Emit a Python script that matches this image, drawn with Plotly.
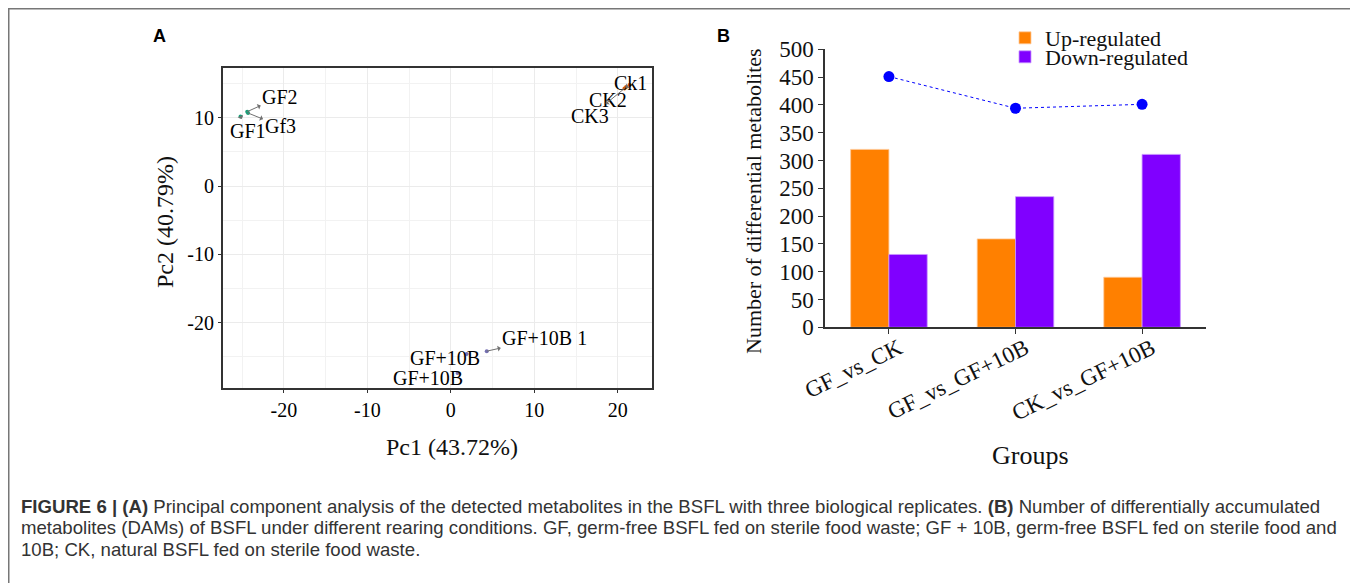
import plotly.graph_objects as go

W, H = 1358, 583
OFF = 8  # page body margin of the browser

# ---------------- Panel A data (PCA) ----------------
pca_labels = ["GF1", "GF2", "Gf3", "Ck1", "CK2", "CK3", "GF+10B 1", "GF+10B", "GF+10B"]
pca_groups = ["GF", "GF", "GF", "CK", "CK", "CK", "GF+10B", "GF+10B", "GF+10B"]
pc1 = [-25.2, -24.4, -24.3, 21.4, 21.0, 20.8, 4.3, 1.9, 0.8]
pc2 = [10.2, 10.9, 10.7, 14.8, 14.5, 14.3, -24.2, -24.6, -27.4]
group_names = ["GF", "CK", "GF+10B"]
group_colors = {"GF": "#1B9E77", "CK": "#D95F02", "GF+10B": "#7570B3"}
pc1_ticks = [-20, -10, 0, 10, 20]
pc1_ticktext = ["-20", "-10", "0", "10", "20"]
pc2_ticks = [-20, -10, 0, 10]
pc2_ticktext = ["-20", "-10", "0", "10"]
# label offsets in pixels (repel style placement)
label_dx = [7, 33, 32, 1, -18, -34, 58, -22, -30]
label_dy = [15, -15, 13, -2, 13, 28, -13, 4, 5]

# ---------------- Panel B data ----------------
groups = ["GF_vs_CK", "GF_vs_GF+10B", "CK_vs_GF+10B"]
up_regulated = [320, 159, 90]
down_regulated = [131, 235, 311]
total = [451, 394, 401]

caption_lines = [
    "<b>FIGURE 6 | (A)</b> Principal component analysis of the detected metabolites in the BSFL with three biological replicates. "
    "<b>(B)</b> Number of differentially accumulated",
    "metabolites (DAMs) of BSFL under different rearing conditions. GF, germ-free BSFL fed on sterile food waste; "
    "GF + 10B, germ-free BSFL fed on sterile food and",
    "10B; CK, natural BSFL fed on sterile food waste.",
]

SERIF = "Liberation Serif, Times New Roman, serif"
SANS = "Liberation Sans, Arial, sans-serif"

def px_x(p):
    return (p - OFF) / W

def px_y(p):
    return 1 - (p - OFF) / H

fig = go.Figure()

for g in group_names:
    xs = [x for x, gg in zip(pc1, pca_groups) if gg == g]
    ys = [y for y, gg in zip(pc2, pca_groups) if gg == g]
    fig.add_trace(go.Scatter(x=xs, y=ys, mode="markers", xaxis="x", yaxis="y",
                             marker=dict(size=4, color=group_colors[g]),
                             showlegend=False, hoverinfo="skip"))

fig.add_trace(go.Bar(x=groups, y=up_regulated, name="Up-regulated", xaxis="x2", yaxis="y2",
                     legend="legend",
                     marker=dict(color="#FF8000", line=dict(color="rgba(255,200,150,0.8)", width=1))))
fig.add_trace(go.Bar(x=groups, y=down_regulated, name="Down-regulated", xaxis="x2", yaxis="y2",
                     legend="legend2",
                     marker=dict(color="#8000FF", line=dict(color="rgba(200,150,255,0.8)", width=1))))
fig.add_trace(go.Scatter(x=groups, y=total, mode="lines+markers", xaxis="x2", yaxis="y2",
                         line=dict(color="#0000FF", width=1, dash="dot"),
                         marker=dict(color="#0000FF", size=11), showlegend=False))

annotations = []
for lab, x, y, dx, dy in zip(pca_labels, pc1, pc2, label_dx, label_dy):
    annotations.append(dict(x=x, y=y, xref="x", yref="y", text=lab, showarrow=True,
                            ax=dx, ay=dy, arrowside="start", arrowhead=2, arrowsize=0.7,
                            arrowwidth=1, arrowcolor="#707070", standoff=0, startstandoff=0,
                            font=dict(family=SERIF, size=20, color="black")))

def label(x, y, text, size, family=SERIF, angle=0, color="#111"):
    return dict(x=px_x(x), y=px_y(y), xref="paper", yref="paper", text=text, showarrow=False,
                xanchor="center", yanchor="middle", textangle=angle,
                font=dict(family=family, size=size, color=color))

annotations += [
    label(452, 447, "Pc1 (43.72%)", 24),
    label(165, 222, "Pc2 (40.79%)", 24, angle=-90),
    label(1030, 455, "Groups", 26),
    label(753, 201, "Number of differential metabolites", 22, angle=-90),
    label(159, 36, "<b>A</b>", 18, family=SANS, color="black"),
    label(723, 36, "<b>B</b>", 18, family=SANS, color="black"),
]
for line, yc in zip(caption_lines, [506, 527.5, 549]):
    annotations.append(dict(x=px_x(19), y=px_y(yc), xref="paper", yref="paper", text=line,
                            showarrow=False, xanchor="left", yanchor="middle", align="left",
                            font=dict(family=SANS, size=18.6, color="#333")))

legend_common = dict(xanchor="left", yanchor="middle", font=dict(family=SERIF, size=22, color="#111"),
                     bgcolor="rgba(0,0,0,0)", itemwidth=30)

fig.update_layout(
    width=W, height=H,
    margin=dict(l=0, r=0, t=0, b=0, autoexpand=False),
    paper_bgcolor="white", plot_bgcolor="white",
    showlegend=True,
    barmode="group", bargap=0.395, bargroupgap=0,
    legend=dict(x=px_x(1005), y=px_y(38), **legend_common),
    legend2=dict(x=px_x(1005), y=px_y(57), **legend_common),
    annotations=annotations,
    xaxis=dict(domain=[px_x(223), px_x(652)], range=[-27.3, 24.1], anchor="y", automargin=False,
               tickmode="array", tickvals=pc1_ticks, ticktext=pc1_ticktext,
               showgrid=True, gridcolor="#EBEBEB", gridwidth=1,
               minor=dict(dtick=5, tick0=0, showgrid=True, gridcolor="#F2F2F2", gridwidth=1),
               zeroline=False, showline=True, mirror=True, linecolor="#333", linewidth=2,
               ticks="outside", ticklen=3, tickcolor="#333",
               tickfont=dict(family=SERIF, size=20, color="black")),
    yaxis=dict(domain=[px_y(388), px_y(68)], range=[-29.6, 17.3], anchor="x", automargin=False,
               tickmode="array", tickvals=pc2_ticks, ticktext=pc2_ticktext,
               showgrid=True, gridcolor="#EBEBEB", gridwidth=1,
               minor=dict(dtick=5, tick0=0, showgrid=True, gridcolor="#F2F2F2", gridwidth=1),
               zeroline=False, showline=True, mirror=True, linecolor="#333", linewidth=2,
               ticks="outside", ticklen=3, tickcolor="#333",
               tickfont=dict(family=SERIF, size=20, color="black")),
    xaxis2=dict(domain=[px_x(825), px_x(1206)], anchor="y2", type="category", range=[-0.505, 2.505],
                automargin=False,
                showgrid=False, zeroline=False, showline=True, linecolor="#333", linewidth=1.5,
                ticks="outside", ticklen=5, tickcolor="#333", tickangle=-26,
                ticklabelshift=10, ticklabelstandoff=-8,
                tickfont=dict(family=SERIF, size=23, color="#111")),
    yaxis2=dict(domain=[px_y(327.3), px_y(49.3)], anchor="x2", range=[0, 500], dtick=50,
                automargin=False,
                showgrid=False, zeroline=False, showline=True, linecolor="#333", linewidth=1.5,
                ticks="outside", ticklen=5, tickcolor="#333",
                tickfont=dict(family=SERIF, size=23, color="#111")),
    shapes=[dict(type="rect", xref="paper", yref="paper", x0=px_x(8.5), x1=px_x(1355.5),
                 y0=-0.1, y1=px_y(8.5), line=dict(color="#777", width=2), fillcolor="rgba(0,0,0,0)",
                 layer="below")],
)

fig.write_html("out.html")
